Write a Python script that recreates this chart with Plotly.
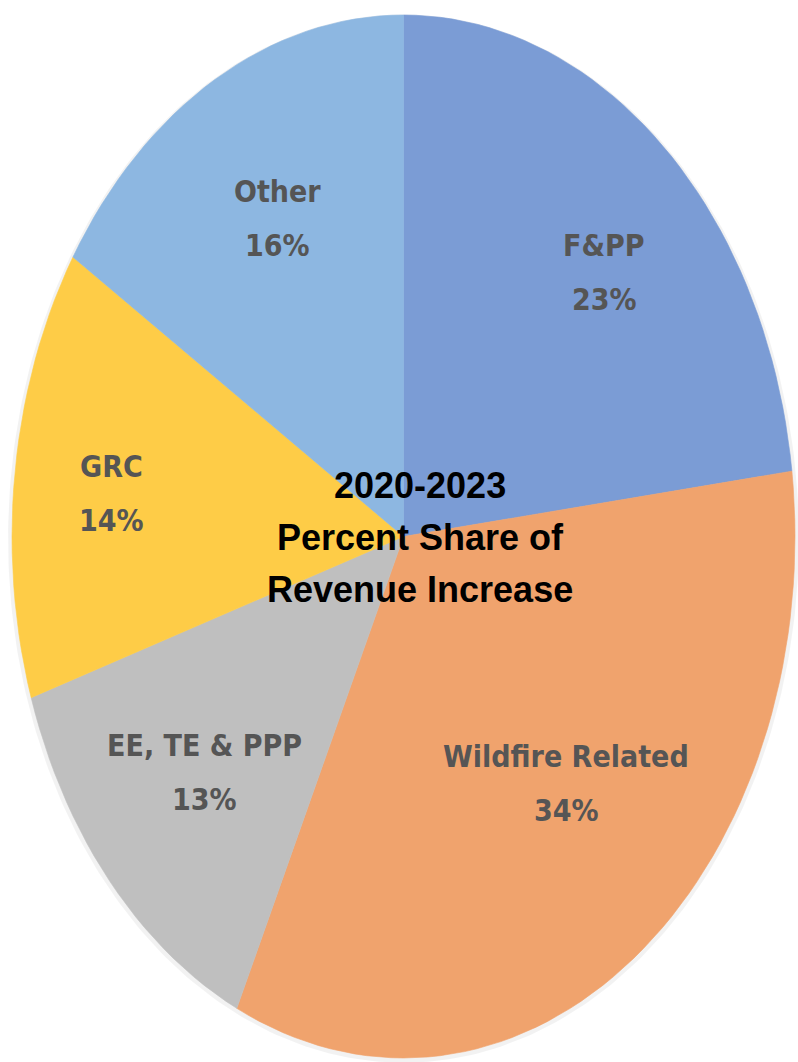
import math
import plotly.graph_objects as go

# ---- data ----
categories = ["F&PP", "Wildfire Related", "EE, TE & PPP", "GRC", "Other"]
shares = [23, 34, 13, 14, 16]          # percent share, clockwise from 12 o'clock
title_lines = ["2020-2023", "Percent Share of", "Revenue Increase"]

# ---- style ----
colors = ["#7B9CD5", "#F0A36D", "#BFBFBF", "#FECC47", "#8DB7E1"]
label_r = [0.72, 0.63, 0.68, 0.75, 0.69]        # label radius (fraction)
label_dang = [4.0, -5.3, -0.3, -0.9, 1.0]       # label angle nudge (degrees)
W, H = 798, 1062
label_font = "DejaVu Sans Condensed, DejaVu Sans, sans-serif"

fig = go.Figure()

# soft shadow under the pie
n = 400
sh = [2 * math.pi * i / n for i in range(n + 1)]
fig.add_trace(go.Scatter(
    x=[1.01 * math.sin(t) for t in sh], y=[1.005 * math.cos(t) - 0.004 for t in sh],
    fill="toself", fillcolor="rgba(0,0,0,0.05)", line=dict(width=0),
    mode="lines", hoverinfo="skip", showlegend=False))

total = sum(shares)
cum = 0.0
annotations = []
for name, v, c, lr, da in zip(categories, shares, colors, label_r, label_dang):
    a0 = 2 * math.pi * cum / total
    a1 = 2 * math.pi * (cum + v) / total
    steps = max(4, int(200 * v / total))
    angs = [a0 + (a1 - a0) * k / steps for k in range(steps + 1)]
    xs = [0.0] + [math.sin(t) for t in angs] + [0.0]
    ys = [0.0] + [math.cos(t) for t in angs] + [0.0]
    fig.add_trace(go.Scatter(
        x=xs, y=ys, fill="toself", fillcolor=c, mode="lines",
        line=dict(color=c, width=0.6), name=name,
        hoverinfo="text", text=f"{name}: {v}%", showlegend=False))
    am = (a0 + a1) / 2 + math.radians(da)
    lx, ly = lr * math.sin(am), lr * math.cos(am)
    annotations.append(dict(x=lx, y=ly, xref="x", yref="y", text=f"<b>{name}</b>",
                            showarrow=False, yshift=27,
                            font=dict(family=label_font, size=30, color="#555555")))
    annotations.append(dict(x=lx, y=ly, xref="x", yref="y", text=f"<b>{v}%</b>",
                            showarrow=False, yshift=-27,
                            font=dict(family=label_font, size=30, color="#555555")))
    cum += v

# centre title
for i, line in enumerate(title_lines):
    annotations.append(dict(x=420 / W, y=1 - 537 / H, xref="paper", yref="paper",
                            text=f"<b>{line}</b>", showarrow=False, yshift=(1 - i) * 52,
                            font=dict(family="Liberation Sans, Arial, sans-serif",
                                      size=36, color="#000000")))

fig.update_layout(
    width=W, height=H,
    margin=dict(l=0, r=0, t=0, b=0),
    paper_bgcolor="white", plot_bgcolor="white",
    xaxis=dict(range=[-1 - 12 / 391.5, 1 + 3 / 391.5], visible=False, fixedrange=True),
    yaxis=dict(range=[-1 - 4 / 521.5, 1 + 15 / 521.5], visible=False, fixedrange=True),
    annotations=annotations,
    showlegend=False,
)

fig.write_html("out.html")
